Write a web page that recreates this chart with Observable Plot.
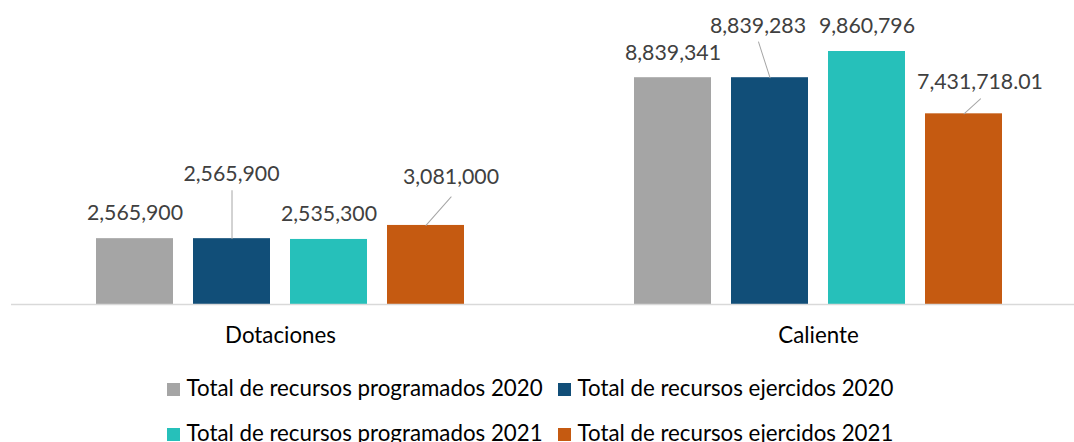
<!DOCTYPE html>
<html>
<head>
<meta charset="utf-8">
<script src="https://cdn.jsdelivr.net/npm/d3@7"></script>
<script src="https://cdn.jsdelivr.net/npm/@observablehq/plot@0.6"></script>
<style>
  html, body { margin: 0; padding: 0; background: #fff; }
  body { position: relative; width: 1074px; height: 442px; overflow: hidden; font-family: Lato, "Open Sans", sans-serif; }
  #legend { position: absolute; left: 167px; top: 367px; display: grid; grid-template-columns: 391px auto; grid-auto-rows: 45px; font-size: 22.3px; color: #000; }
  #legend .item { display: flex; align-items: center; white-space: nowrap; }
  #legend .sw { width: 13px; height: 13px; margin-right: 6.5px; flex: none; }
  #legend .tx { position: relative; top: -2px; }
</style>
</head>
<body>
<div id="chart"></div>
<div id="legend"></div>
<script>
// ---- data ----
const groups = ["Dotaciones", "Caliente"];
const series = [
  "Total de recursos programados 2020",
  "Total de recursos ejercidos 2020",
  "Total de recursos programados 2021",
  "Total de recursos ejercidos 2021"
];
const programados2020 = [2565900, 8839341];
const ejercidos2020 = [2565900, 8839283];
const programados2021 = [2535300, 9860796];
const ejercidos2021 = [3081000, 7431718.01];

// ---- presentation ----
const seriesColors = ["#A5A5A5", "#114E78", "#26C0BA", "#C55A11"];
const seriesValues = [programados2020, ejercidos2020, programados2021, ejercidos2021];
const table = groups.flatMap((g, gi) =>
  series.map((s, si) => ({group: g, series: s, si, value: seriesValues[si][gi]}))
);
const fmt = d3.format(",");

// data labels moved away from their bar (with leader lines)
const leaderLabels = [
  {group: "Dotaciones", si: 1, dx: -0.5, dy: -64.5, length: 48, rotate: 0},
  {group: "Dotaciones", si: 3, dx: 25, dy: -48, length: 38, rotate: 41.4},
  {group: "Caliente", si: 1, dx: -12, dy: -52, length: 37.6, rotate: -17.8},
  {group: "Caliente", si: 3, dx: 16, dy: -31.5, length: 22.3, rotate: 47.7}
];
const isLeader = d => leaderLabels.some(l => l.group === d.group && l.si === d.si);
const lineShape = {draw(ctx, l) { ctx.moveTo(0, 0); ctx.lineTo(0, -l); }};

const leaderMarks = leaderLabels.flatMap(l => {
  const rows = table.filter(d => d.group === l.group && d.si === l.si);
  return [
    Plot.vector(rows, {fx: "group", x: "series", y: "value", length: l.length, rotate: l.rotate,
      anchor: "start", shape: lineShape, stroke: "#A6A6A6", strokeWidth: 1}),
    Plot.text(rows, {fx: "group", x: "series", y: "value", text: d => fmt(d.value),
      dx: l.dx, dy: l.dy, fill: "#404040"})
  ];
});

const chart = Plot.plot({
  width: 1074,
  height: 360,
  marginTop: 0,
  marginLeft: 0,
  marginRight: 0,
  marginBottom: 36,
  style: {fontFamily: "Lato, 'Open Sans', sans-serif", fontSize: "21.3px", background: "#fff"},
  fx: {domain: groups, range: [10.5, 1086.5], padding: 0},
  x: {domain: series, range: [84.5, 453.5], paddingInner: 0.209, paddingOuter: 0, axis: null},
  y: {domain: [0, d3.max(table, d => d.value)], range: [304, 51], axis: null},
  color: {domain: series, range: seriesColors},
  marks: [
    Plot.barY(table, {fx: "group", x: "series", y: "value", fill: "series"}),
    Plot.ruleY([0], {stroke: "#D9D9D9", strokeWidth: 1.5}),
    Plot.text(table.filter(d => !isLeader(d)), {fx: "group", x: "series", y: "value",
      text: d => fmt(d.value), dy: -25, fill: "#404040"}),
    ...leaderMarks,
    Plot.axisFx({anchor: "bottom", tickSize: 0, tickPadding: 3, label: null, fill: "#000", fontSize: 22.3})
  ]
});
document.getElementById("chart").appendChild(chart);

// ---- legend ----
const legend = document.getElementById("legend");
series.forEach((s, i) => {
  const item = document.createElement("div");
  item.className = "item";
  const sw = document.createElement("span");
  sw.className = "sw";
  sw.style.background = seriesColors[i];
  const tx = document.createElement("span");
  tx.className = "tx";
  tx.textContent = s;
  item.appendChild(sw);
  item.appendChild(tx);
  legend.appendChild(item);
});
</script>
</body>
</html>
